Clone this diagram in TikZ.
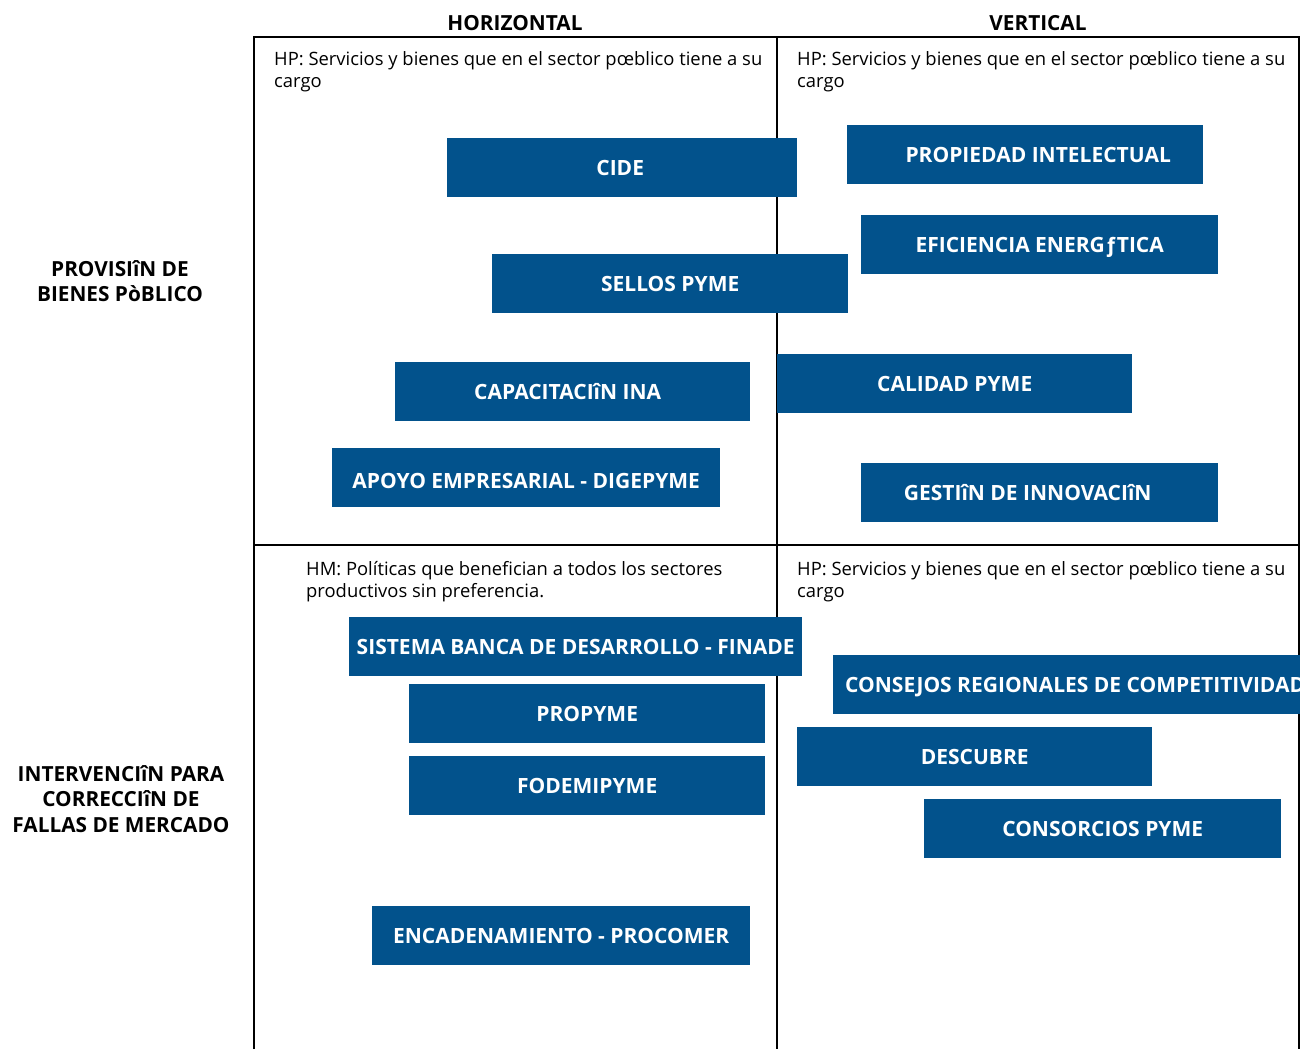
\documentclass[tikz,border=0pt]{standalone}
\usepackage{fontspec}
\setmainfont{Open Sans}
\usetikzlibrary{positioning}
\definecolor{boxblue}{HTML}{02528C}
\begin{document}
\begin{tikzpicture}[x=1pt,y=-1pt] % pixel coordinates, y grows downwards
\tikzset{cell/.style={draw=black, line width=2pt}} % grid lines
\tikzset{programa/.style={fill=boxblue, text=white, font=\fontsize{21}{22}\selectfont\bfseries, minimum height=59pt, text height=16pt, text depth=0pt, inner sep=0pt, anchor=north west}}
\tikzset{titulo/.style={font=\fontsize{20.8}{25.3}\selectfont\bfseries, align=center}}
\tikzset{nota/.style={font=\fontsize{18.4}{22}\selectfont, align=left, anchor=north west, inner sep=0pt}}
\useasboundingbox (0,0) rectangle (1300,1049);
\clip (0,0) rectangle (1300,1049);
% grid
\draw[cell] (254,1049) -- (254,37) -- (1299,37) -- (1299,1049);
\draw[cell] (777,37) -- (777,1049);
\draw[cell] (254,545) -- (1299,545);
% headers
\node[titulo] (horizontal) at (515,23) {HORIZONTAL};
\node[titulo] (vertical) at (1038,23) {VERTICAL};
\node[titulo] (provision) at (120,281) {PROVISIîN DE\\BIENES PòBLICO};
\node[titulo] (intervencion) at (121,799) {INTERVENCIîN PARA\\CORRECCIîN DE\\FALLAS DE MERCADO};
% notes
\node[nota] (notaA) at (274,51) {HP: Servicios y bienes que en el sector pœblico tiene a su\\cargo};
\node[nota] (notaB) at (797,51) {HP: Servicios y bienes que en el sector pœblico tiene a su\\cargo};
\node[nota] (notaC) at (306,561) {HM: Políticas que benefician a todos los sectores\\productivos sin preferencia.};
\node[nota] (notaD) at (797,561) {HP: Servicios y bienes que en el sector pœblico tiene a su\\cargo};
% programas
\node[programa, minimum width=350pt] (cide) at (447,138) {\kern-4pt CIDE};
\node[programa, minimum width=356pt] (propiedad) at (847,125) {\kern26pt PROPIEDAD INTELECTUAL};
\node[programa, minimum width=357pt] (eficiencia) at (861,215) {EFICIENCIA ENERGƒTICA};
\node[programa, minimum width=356pt] (sellos) at (492,254) {SELLOS PYME};
\node[programa, minimum width=355pt] (capacitacion) at (395,362) {CAPACITACIîN INA\kern10pt};
\node[programa, minimum width=355pt] (calidad) at (777,354) {CALIDAD PYME};
\node[programa, minimum width=388pt, text height=22pt] (apoyo) at (332,448) {APOYO EMPRESARIAL - DIGEPYME};
\node[programa, minimum width=357pt] (gestion) at (861,463) {GESTIîN DE INNOVACIîN\kern24pt};
\node[programa, minimum width=453pt] (sbd) at (349,617) {SISTEMA BANCA DE DESARROLLO - FINADE};
\node[programa, minimum width=0pt, inner xsep=12pt] (consejos) at (833,655) {CONSEJOS REGIONALES DE COMPETITIVIDAD};
\node[programa, minimum width=356pt] (propyme) at (409,684) {PROPYME};
\node[programa, minimum width=356pt] (fodemipyme) at (409,756) {FODEMIPYME};
\node[programa, minimum width=355pt] (descubre) at (797,727) {DESCUBRE};
\node[programa, minimum width=357pt] (consorcios) at (924,799) {CONSORCIOS PYME};
\node[programa, minimum width=378pt] (encadenamiento) at (372,906) {ENCADENAMIENTO - PROCOMER};
\end{tikzpicture}
\end{document}
